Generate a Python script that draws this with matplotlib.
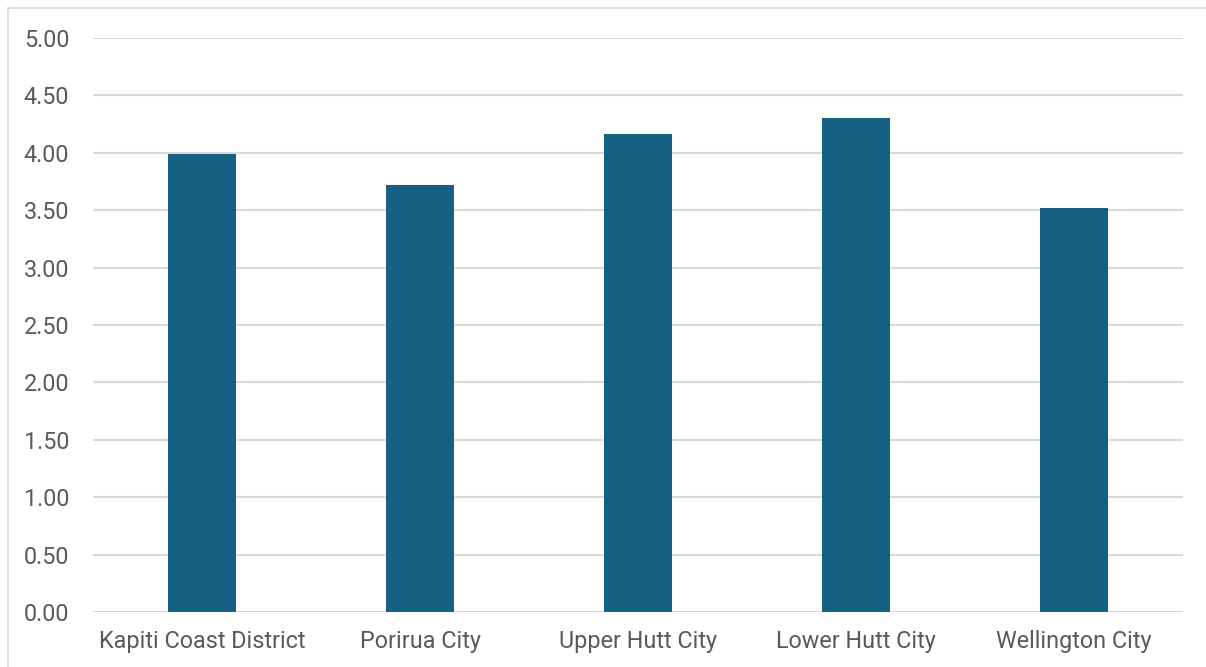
import matplotlib.pyplot as plt
from matplotlib.lines import Line2D
import numpy as np

categories = ['Kapiti Coast District', 'Porirua City', 'Upper Hutt City',
              'Lower Hutt City', 'Wellington City']
values = [3.99, 3.72, 4.16, 4.30, 3.52]
yticks = [0.0, 0.5, 1.0, 1.5, 2.0, 2.5, 3.0, 3.5, 4.0, 4.5, 5.0]

W, H = 1206, 667
fig = plt.figure(figsize=(W / 100, H / 100), dpi=100)
ax = fig.add_axes([93 / W, 1 - 612 / H, (1183 - 93) / W, (612 - 38) / H])

x = np.arange(len(categories))
ax.bar(x, values, width=0.315, color='#166083', zorder=3)

ax.set_xlim(-0.5, len(categories) - 0.5)
ax.set_ylim(0, 5)
ax.set_yticks(yticks)
ax.set_yticklabels([f'{v:.2f}' for v in yticks])
ax.set_xticks(x)
ax.set_xticklabels(categories)

ax.grid(axis='y', color='#d9d9d9', linewidth=1.5, zorder=0)
for s in ax.spines.values():
    s.set_visible(False)
ax.tick_params(length=0, labelsize=16.8, labelcolor='#595959')
ax.tick_params(axis='y', pad=17)
ax.tick_params(axis='x', pad=13)
for lab in ax.get_xticklabels() + ax.get_yticklabels():
    lab.set_family('Roboto')

# outer chart border (top and left edges visible)
fig.add_artist(Line2D([8 / W, 1], [1 - 8 / H, 1 - 8 / H], color='#d9d9d9', lw=1.2))
fig.add_artist(Line2D([8 / W, 8 / W], [0, 1 - 8 / H], color='#d9d9d9', lw=1.2))

fig.savefig('out.png', dpi=100)
